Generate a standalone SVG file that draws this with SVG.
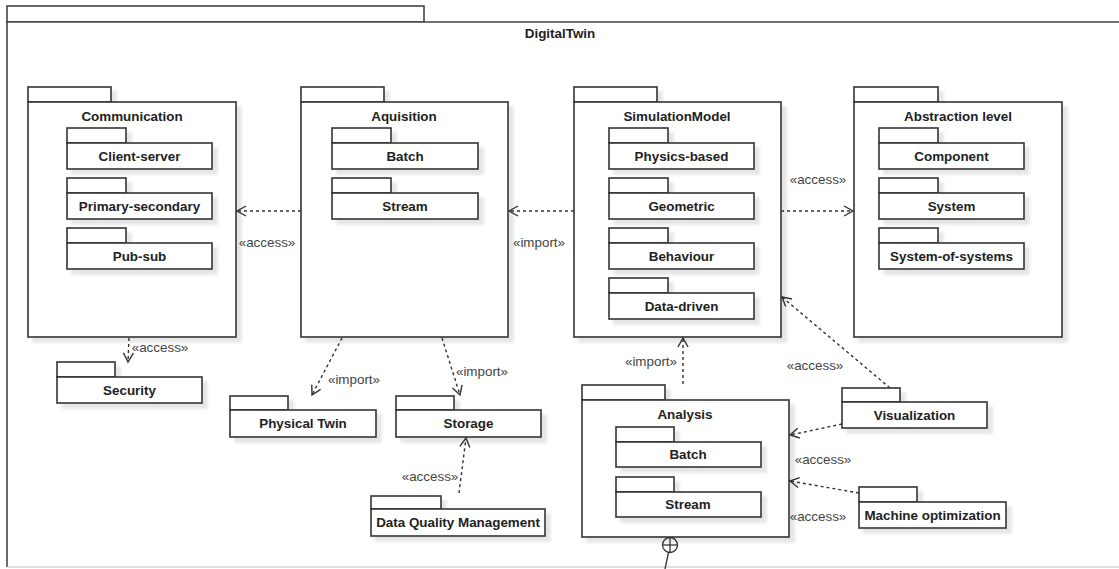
<svg xmlns="http://www.w3.org/2000/svg" width="1119" height="569" viewBox="0 0 1119 569">
  <defs>
    <style>
      .pk rect { fill: #ffffff; stroke: #333333; stroke-width: 1.6; }
      .pk { filter: url(#sh); }
      .big { fill: #ffffff; stroke: #444444; stroke-width: 1.6; }
      .name { font-family: "Liberation Sans", Arial, sans-serif; font-size: 13.4px; font-weight: bold; fill: #222222; text-anchor: middle; }
      .lbl { font-family: "Liberation Sans", Arial, sans-serif; font-size: 13.4px; fill: #444444; text-anchor: middle; }
      .dep { fill: none; stroke: #333333; stroke-width: 1.4; stroke-dasharray: 3 3; marker-end: url(#open); }
      .solid { fill: none; stroke: #333333; stroke-width: 1.3; }
    </style>
    <filter id="sh" x="-10%" y="-10%" width="130%" height="150%">
      <feGaussianBlur in="SourceAlpha" stdDeviation="1.5"/>
      <feOffset dx="5" dy="5" result="b"/>
      <feFlood flood-color="#000000" flood-opacity="0.1"/>
      <feComposite in2="b" operator="in"/>
      <feMerge><feMergeNode/><feMergeNode in="SourceGraphic"/></feMerge>
    </filter>
    <marker id="open" markerUnits="userSpaceOnUse" markerWidth="12" markerHeight="12" refX="10" refY="5.5" orient="auto" viewBox="0 0 12 11">
      <path d="M1,0.5 L10,5.5 L1,10.5" fill="none" stroke="#333333" stroke-width="1.4"/>
    </marker>
  </defs>

  <rect width="1119" height="569" fill="#ffffff"/>

  <!-- outer package; its right side runs past the canvas -->
  <g id="DigitalTwin">
    <rect class="big" x="7" y="6" width="417" height="16"/>
    <path class="big" d="M1125,22 H7 V567" fill="none"/>
    <line x1="7" y1="567" x2="1119" y2="567" stroke="#bbbbbb" stroke-width="1.2"/>
    <text class="name" x="560" y="38">DigitalTwin</text>
  </g>

  <!-- Communication -->
  <g id="Communication">
    <g class="pk"><rect x="28" y="87" width="83" height="15"/><rect x="28" y="102" width="208" height="235"/></g>
    <text class="name" x="132" y="121">Communication</text>
    <g id="ClientServer">
      <g class="pk"><rect x="67" y="128" width="59" height="15"/><rect x="67" y="143" width="145" height="26"/></g>
      <text class="name" x="139.5" y="161">Client-server</text>
    </g>
    <g id="PrimarySecondary">
      <g class="pk"><rect x="67" y="178" width="59" height="15"/><rect x="67" y="193" width="145" height="26"/></g>
      <text class="name" x="139.5" y="211">Primary-secondary</text>
    </g>
    <g id="PubSub">
      <g class="pk"><rect x="67" y="228" width="59" height="15"/><rect x="67" y="243" width="145" height="26"/></g>
      <text class="name" x="139.5" y="261">Pub-sub</text>
    </g>
  </g>

  <!-- Aquisition -->
  <g id="Aquisition">
    <g class="pk"><rect x="301" y="87" width="83" height="15"/><rect x="301" y="102" width="207" height="235"/></g>
    <text class="name" x="404" y="121">Aquisition</text>
    <g id="AqBatch">
      <g class="pk"><rect x="332" y="128" width="59" height="15"/><rect x="332" y="143" width="146" height="26"/></g>
      <text class="name" x="405" y="161">Batch</text>
    </g>
    <g id="AqStream">
      <g class="pk"><rect x="332" y="178" width="59" height="15"/><rect x="332" y="193" width="146" height="26"/></g>
      <text class="name" x="405" y="211">Stream</text>
    </g>
  </g>

  <!-- SimulationModel -->
  <g id="SimulationModel">
    <g class="pk"><rect x="574" y="87" width="83" height="15"/><rect x="574" y="102" width="207" height="235"/></g>
    <text class="name" x="677" y="121">SimulationModel</text>
    <g id="PhysicsBased">
      <g class="pk"><rect x="609" y="128" width="59" height="15"/><rect x="609" y="143" width="145" height="26"/></g>
      <text class="name" x="681.5" y="161">Physics-based</text>
    </g>
    <g id="Geometric">
      <g class="pk"><rect x="609" y="178" width="59" height="15"/><rect x="609" y="193" width="145" height="26"/></g>
      <text class="name" x="681.5" y="211">Geometric</text>
    </g>
    <g id="Behaviour">
      <g class="pk"><rect x="609" y="228" width="59" height="15"/><rect x="609" y="243" width="145" height="26"/></g>
      <text class="name" x="681.5" y="261">Behaviour</text>
    </g>
    <g id="DataDriven">
      <g class="pk"><rect x="609" y="278" width="59" height="15"/><rect x="609" y="293" width="145" height="26"/></g>
      <text class="name" x="681.5" y="311">Data-driven</text>
    </g>
  </g>

  <!-- Abstraction level -->
  <g id="AbstractionLevel">
    <g class="pk"><rect x="854" y="87" width="84" height="15"/><rect x="854" y="102" width="208" height="235"/></g>
    <text class="name" x="958" y="121">Abstraction level</text>
    <g id="Component">
      <g class="pk"><rect x="879" y="128" width="59" height="15"/><rect x="879" y="143" width="145" height="26"/></g>
      <text class="name" x="951.5" y="161">Component</text>
    </g>
    <g id="System">
      <g class="pk"><rect x="879" y="178" width="59" height="15"/><rect x="879" y="193" width="145" height="26"/></g>
      <text class="name" x="951.5" y="211">System</text>
    </g>
    <g id="SystemOfSystems">
      <g class="pk"><rect x="879" y="228" width="59" height="15"/><rect x="879" y="243" width="145" height="26"/></g>
      <text class="name" x="951.5" y="261">System-of-systems</text>
    </g>
  </g>

  <!-- Security -->
  <g id="Security">
    <g class="pk"><rect x="57" y="362" width="58" height="15"/><rect x="57" y="377" width="145" height="26"/></g>
    <text class="name" x="129.5" y="395">Security</text>
  </g>

  <!-- Physical Twin -->
  <g id="PhysicalTwin">
    <g class="pk"><rect x="230" y="396" width="58" height="14"/><rect x="230" y="410" width="146" height="27"/></g>
    <text class="name" x="303" y="428">Physical Twin</text>
  </g>

  <!-- Storage -->
  <g id="Storage">
    <g class="pk"><rect x="396" y="396" width="58" height="14"/><rect x="396" y="410" width="145" height="27"/></g>
    <text class="name" x="468.5" y="428">Storage</text>
  </g>

  <!-- Data Quality Management -->
  <g id="DataQualityManagement">
    <g class="pk"><rect x="371" y="496" width="70" height="13"/><rect x="371" y="509" width="174" height="27"/></g>
    <text class="name" x="458" y="527">Data Quality Management</text>
  </g>

  <!-- Analysis -->
  <g id="Analysis">
    <g class="pk"><rect x="582" y="385" width="83" height="15"/><rect x="582" y="400" width="207" height="137"/></g>
    <text class="name" x="685" y="419">Analysis</text>
    <g id="AnBatch">
      <g class="pk"><rect x="616" y="427" width="58" height="15"/><rect x="616" y="442" width="145" height="25"/></g>
      <text class="name" x="688" y="459">Batch</text>
    </g>
    <g id="AnStream">
      <g class="pk"><rect x="616" y="477" width="58" height="15"/><rect x="616" y="492" width="145" height="25"/></g>
      <text class="name" x="688" y="509">Stream</text>
    </g>
  </g>

  <!-- Visualization -->
  <g id="Visualization">
    <g class="pk"><rect x="842" y="388" width="58" height="14"/><rect x="842" y="402" width="145" height="26"/></g>
    <text class="name" x="914.5" y="420">Visualization</text>
  </g>

  <!-- Machine optimization -->
  <g id="MachineOptimization">
    <g class="pk"><rect x="859" y="487" width="58" height="15"/><rect x="859" y="502" width="147" height="26"/></g>
    <text class="name" x="932.5" y="520">Machine optimization</text>
  </g>

  <!-- dependencies -->
  <g id="connectors">
    <line class="dep" x1="301" y1="211" x2="237" y2="211"/>
    <line class="dep" x1="574" y1="211" x2="509" y2="211"/>
    <line class="dep" x1="781" y1="211" x2="853" y2="211"/>
    <line class="dep" x1="129" y1="338" x2="128" y2="362"/>
    <line class="dep" x1="342" y1="338" x2="312" y2="395"/>
    <line class="dep" x1="442" y1="338" x2="460" y2="395"/>
    <line class="dep" x1="459" y1="493" x2="466" y2="438"/>
    <line class="dep" x1="683" y1="384" x2="683" y2="338"/>
    <line class="dep" x1="890" y1="388" x2="782" y2="297"/>
    <line class="dep" x1="842" y1="424" x2="790" y2="435"/>
    <line class="dep" x1="859" y1="493" x2="790" y2="481"/>
    <!-- nesting connector -->
    <circle class="solid" cx="670" cy="545" r="7.5" fill="#ffffff"/>
    <line class="solid" x1="662.5" y1="545" x2="677.5" y2="545"/>
    <line class="solid" x1="670" y1="537.5" x2="670" y2="552.5"/>
    <line class="solid" x1="668.5" y1="552.5" x2="665" y2="569"/>

    <text class="lbl" x="267" y="247">«access»</text>
    <text class="lbl" x="539" y="247">«import»</text>
    <text class="lbl" x="818" y="184">«access»</text>
    <text class="lbl" x="160" y="352">«access»</text>
    <text class="lbl" x="354" y="384">«import»</text>
    <text class="lbl" x="482" y="376">«import»</text>
    <text class="lbl" x="430" y="481">«access»</text>
    <text class="lbl" x="651" y="366">«import»</text>
    <text class="lbl" x="815" y="370">«access»</text>
    <text class="lbl" x="823" y="464">«access»</text>
    <text class="lbl" x="818" y="521">«access»</text>
  </g>
</svg>
